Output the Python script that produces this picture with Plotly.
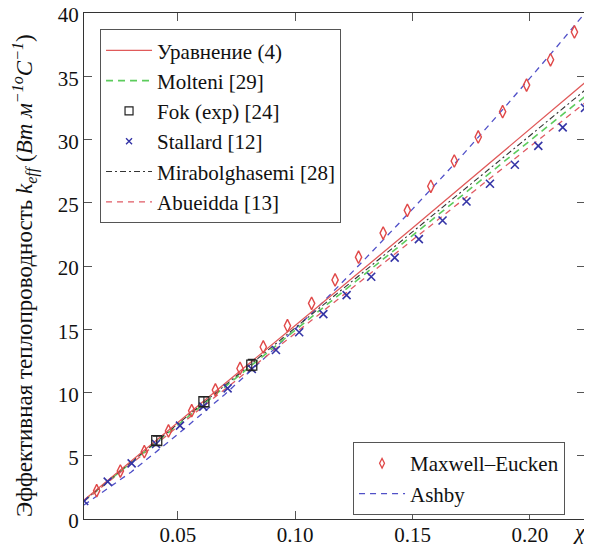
import plotly.graph_objects as go

# ---- data ----
line_x = [0.01, 0.05, 0.10, 0.15, 0.20, 0.2235]
uravnenie = [1.5, 7.6, 15.3, 23.0, 30.8, 34.5]
molteni = [1.45, 7.45, 14.95, 22.4, 29.9, 33.4]
mirabol = [1.45, 7.5, 15.1, 22.7, 30.3, 33.9]
abueidda = [1.4, 7.3, 14.7, 22.1, 29.4, 32.9]

ashby_x = [0.01, 0.03, 0.05, 0.07, 0.09, 0.11, 0.13, 0.15, 0.17, 0.19, 0.21, 0.2235]
ashby_y = [1.1, 3.7, 6.7, 9.85, 13.25, 16.8, 20.6, 24.5, 28.5, 32.7, 37.0, 40.0]

fok_x = [0.041, 0.0611, 0.0815]
fok_y = [6.19, 9.27, 12.17]
fok_err = [0.35, 0.4, 0.45]

stallard_x = [0.0101, 0.0201, 0.0303, 0.0407, 0.0509, 0.0608, 0.0712, 0.0815, 0.0918,
              0.1017, 0.112, 0.1219, 0.1324, 0.1424, 0.1527, 0.1628, 0.173, 0.183,
              0.1936, 0.2036, 0.214, 0.2235]
stallard_y = [1.42, 2.95, 4.40, 5.93, 7.38, 8.88, 10.33, 11.86, 13.36,
              14.76, 16.2, 17.7, 19.15, 20.66, 22.13, 23.6, 25.1, 26.5,
              28.0, 29.5, 30.96, 32.5]

me_x = [0.0154, 0.0255, 0.0357, 0.046, 0.0559, 0.066, 0.0765, 0.0864, 0.0967, 0.107,
        0.117, 0.127, 0.1375, 0.1478, 0.1578, 0.1678, 0.178, 0.1884, 0.1986, 0.2088, 0.219]
me_y = [2.24, 3.79, 5.32, 6.96, 8.56, 10.2, 11.9, 13.6, 15.28, 17.05,
        18.9, 20.7, 22.6, 24.4, 26.3, 28.3, 30.2, 32.2, 34.3, 36.3, 38.5]

x_ticks = [0.05, 0.10, 0.15, 0.20]
x_ticklabels = ["0.05", "0.10", "0.15", "0.20"]
y_ticks = [0, 5, 10, 15, 20, 25, 30, 35, 40]

FONT = "'Liberation Serif', 'Times New Roman', 'DejaVu Serif', serif"
INK = "#111111"

C_ASHBY = "#5050c8"
C_ABU = "#e05a64"
C_MOL = "#5ccc5c"
C_MIR = "#333333"
C_URA = "#e05a5a"
C_STA = "#3434a6"
C_FOK = "#222222"
C_ME = "#e04848"

fig = go.Figure()

# data traces (legend entries are drawn by the small proxy traces below)
fig.add_trace(go.Scatter(x=ashby_x, y=ashby_y, mode="lines", showlegend=False,
                         line=dict(color=C_ASHBY, width=1.3, dash="6px,5px")))
fig.add_trace(go.Scatter(x=line_x, y=abueidda, mode="lines", showlegend=False,
                         line=dict(color=C_ABU, width=1.3, dash="6px,5px")))
fig.add_trace(go.Scatter(x=line_x, y=molteni, mode="lines", showlegend=False,
                         line=dict(color=C_MOL, width=1.6, dash="7px,5px")))
fig.add_trace(go.Scatter(x=line_x, y=mirabol, mode="lines", showlegend=False,
                         line=dict(color=C_MIR, width=1.1, dash="6px,3px,2px,3px")))
fig.add_trace(go.Scatter(x=line_x, y=uravnenie, mode="lines", showlegend=False,
                         line=dict(color=C_URA, width=1.3)))
fig.add_trace(go.Scatter(x=stallard_x, y=stallard_y, mode="markers", showlegend=False,
                         marker=dict(symbol="x-thin-open", size=8, color=C_STA,
                                     line=dict(width=1.6, color=C_STA))))
fig.add_trace(go.Scatter(x=fok_x, y=fok_y, mode="markers", showlegend=False,
                         marker=dict(symbol="square-open", size=10, color=C_FOK,
                                     line=dict(width=1.3)),
                         error_y=dict(type="data", array=fok_err, color=C_FOK,
                                      thickness=1.1, width=4)))
fig.add_trace(go.Scatter(x=me_x, y=me_y, mode="markers", showlegend=False,
                         marker=dict(symbol="diamond-tall-open", size=9, color=C_ME,
                                     line=dict(width=1.4))))

# legend proxies
def proxy_line(name, color, width, dash, legend, rank):
    fig.add_trace(go.Scatter(x=[None], y=[None], mode="lines", name=name,
                             line=dict(color=color, width=width, dash=dash),
                             legend=legend, legendrank=rank))

def proxy_marker(name, symbol, size, color, lw, legend, rank):
    fig.add_trace(go.Scatter(x=[None], y=[None], mode="markers", name=name,
                             marker=dict(symbol=symbol, size=size, color=color,
                                         line=dict(width=lw, color=color)),
                             legend=legend, legendrank=rank))

proxy_line("Уравнение (4)", C_URA, 1.3, "solid", "legend", 1)
proxy_line("Molteni [29]", C_MOL, 1.6, "7px,5px", "legend", 2)
proxy_marker("Fok (exp) [24]", "square-open", 8, C_FOK, 1.2, "legend", 3)
proxy_marker("Stallard [12]", "x-thin-open", 6, C_STA, 1.4, "legend", 4)
proxy_line("Mirabolghasemi [28]", C_MIR, 1.1, "6px,3px,2px,3px", "legend", 5)
proxy_line("Abueidda [13]", C_ABU, 1.3, "6px,5px", "legend", 6)
proxy_marker("Maxwell–Eucken", "diamond-tall-open", 7, C_ME, 1.3, "legend2", 1)
proxy_line("Ashby", C_ASHBY, 1.3, "6px,5px", "legend2", 2)

axis_common = dict(showgrid=False, zeroline=False, showline=True, linecolor="#333333",
                   linewidth=1.3, mirror="allticks", ticks="inside", ticklen=8,
                   tickcolor="#555555", tickwidth=1, automargin=False,
                   ticklabeloverflow="allow",
                   tickfont=dict(family=FONT, size=21, color=INK))

legend_common = dict(xanchor="left", yanchor="top",
                     bordercolor="#555555", borderwidth=1, bgcolor="white",
                     font=dict(family=FONT, size=21, color=INK),
                     itemwidth=46, tracegroupgap=0, traceorder="normal")

# the page has an 8px body margin, so the figure is 8px smaller than the window
fig.update_layout(
    width=584, height=538,
    margin=dict(l=76, r=7, t=5, b=27, autoexpand=False),
    plot_bgcolor="white", paper_bgcolor="white",
    font=dict(family=FONT, size=20, color=INK),
    xaxis=dict(range=[0.01, 0.2235], tickvals=x_ticks, ticktext=x_ticklabels,
               ticklabelstandoff=-3, **axis_common),
    yaxis=dict(range=[0, 40], tickvals=y_ticks, ticklabelshift=2, **axis_common),
    legend=dict(x=0.032, y=0.968, **legend_common),
    legend2=dict(x=0.537, y=0.152, **legend_common),
    showlegend=True,
)

fig.add_annotation(xref="paper", yref="paper", x=-0.118, y=0.482, xanchor="center",
                   yanchor="middle", textangle=-90, showarrow=False,
                   text="Эффективная теплопроводность <i>k<sub>eff</sub></i> "
                        "(<i>Bm м<sup>−1o</sup>C<sup>−1</sup></i>)",
                   font=dict(family=FONT, size=23, color=INK))
fig.add_annotation(xref="paper", yref="paper", x=0.99, y=-0.024, xanchor="center",
                   yanchor="middle", showarrow=False, text="<i>χ</i>",
                   font=dict(family=FONT, size=22, color=INK))

fig.write_html("out.html")
